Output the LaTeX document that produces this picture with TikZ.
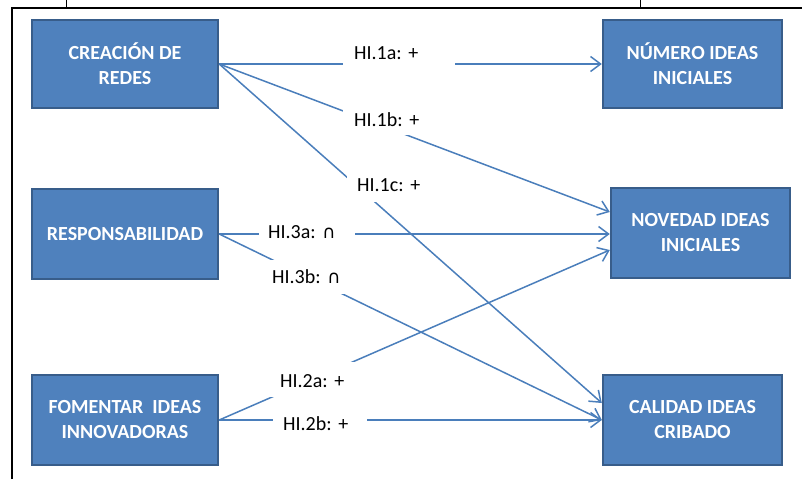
\documentclass[tikz,border=0pt]{standalone}
\usepackage{fontspec}
\setmainfont{Carlito}
\newfontfamily\symfont{DejaVu Sans}
\usetikzlibrary{arrows.meta}
\definecolor{boxfill}{HTML}{4F81BD}
\definecolor{boxline}{HTML}{385D8A}
\definecolor{linkcol}{HTML}{4A7EBB}
\newcommand{\capsym}{{\symfont\fontsize{18}{18}\selectfont ∩}}
\tikzset{
  factor/.style={draw=boxline, line width=2.4pt, fill=boxfill, text=white,
    font=\fontsize{20}{25}\selectfont\bfseries, align=center, inner sep=0pt},
  link/.style={draw=linkcol, line width=1.5pt,
    -{Straight Barb[length=10pt,width=15pt,line width=1.5pt]}},
  hyp/.style={fill=white, anchor=base west, align=left, inner ysep=0pt,
    font=\fontsize{20}{24}\selectfont\frenchspacing, text=black},
  frameline/.style={draw=black, line width=1.6pt}
}
\begin{document}
\begin{tikzpicture}[x=1pt, y=-1pt]
\useasboundingbox (0,0) rectangle (802,479);
% page frame
\draw[frameline] (12,479) -- (12,8) -- (802,8);
\draw[black, line width=0.8pt] (66,0) -- (66,8) (640,0) -- (640,8);

% factors (left) and outcomes (right)
\node[factor, minimum width=186pt, minimum height=88pt] (cre) at (125,64) {CREACIÓN DE\\REDES};
\node[factor, minimum width=186pt, minimum height=90pt] (resp) at (125,234) {RESPONSABILIDAD};
\node[factor, minimum width=186pt, minimum height=90pt] (fom) at (125,420) {FOMENTAR\ \ IDEAS\\INNOVADORAS};
\node[factor, minimum width=179pt, minimum height=88pt] (num) at (692.5,64) {NÚMERO IDEAS\\INICIALES};
\node[factor, minimum width=179pt, minimum height=90pt] (nov) at (700.5,233) {NOVEDAD IDEAS\\INICIALES};
\node[factor, minimum width=179pt, minimum height=90pt] (cal) at (692.5,420) {CALIDAD IDEAS\\CRIBADO};

% hypotheses
\draw[link] (cre.east) -- (num.west);
\draw[link] (cre.east) -- ([yshift=21pt]nov.west);
\draw[link] (cre.east) -- ([yshift=17pt]cal.west);
\draw[link] (resp.east) -- (resp.east -| nov.west);
\draw[link] (resp.east) -- (cal.west);
\draw[link] (fom.east) -- ([yshift=-17pt]nov.west);
\draw[link] (fom.east) -- (cal.west);

% hypothesis labels, each masking its connector
\node[hyp, inner xsep=11pt, text width=90pt, text height=22pt, text depth=10pt] (h1a) at (343,59) {HI.1a: +};
\node[hyp, inner xsep=11pt, text width=90pt, text height=20pt, text depth=9pt] (h1b) at (343,126) {HI.1b: +};
\node[hyp, inner xsep=10pt, text width=90pt, text height=20pt, text depth=11pt] (h1c) at (347,191) {HI.1c: +};
\node[hyp, inner xsep=9pt, text width=78pt, text height=20pt, text depth=10pt] (h3a) at (259,238) {HI.3a: \capsym};
\node[hyp, inner xsep=10pt, text width=78pt, text height=23pt, text depth=11pt] (h3b) at (262,283) {HI.3b: \capsym};
\node[hyp, inner xsep=10pt, text width=80pt, text height=25pt, text depth=10pt] (h2a) at (270,387) {HI.2a: +};
\node[hyp, inner xsep=10pt, text width=74pt, text height=20pt, text depth=10pt] (h2b) at (273,430) {HI.2b: +};
\end{tikzpicture}
\end{document}
